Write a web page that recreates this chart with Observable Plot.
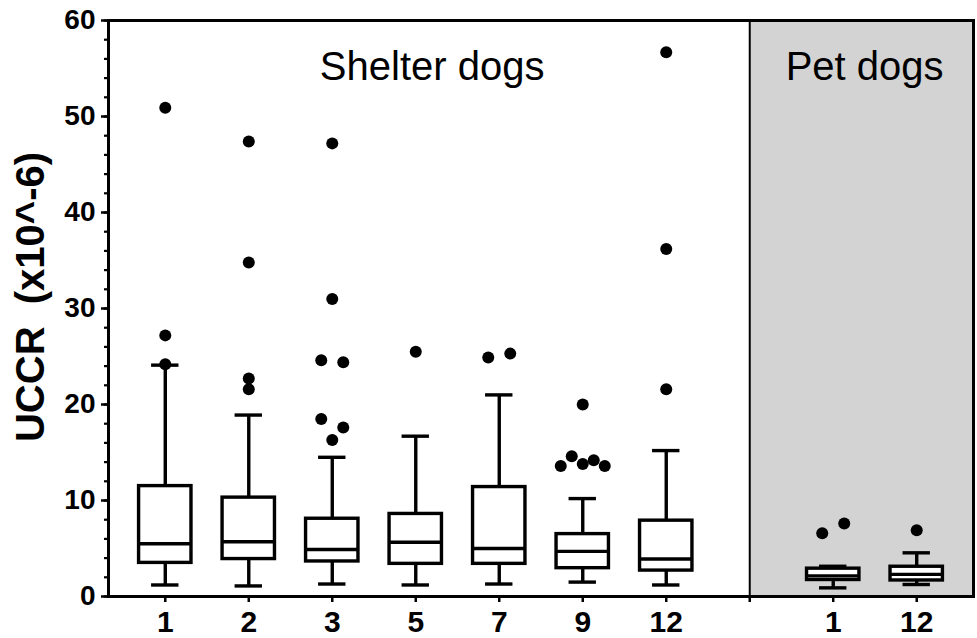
<!DOCTYPE html>
<html>
<head>
<meta charset="utf-8">
<script src="https://cdn.jsdelivr.net/npm/d3@7"></script>
<script src="https://cdn.jsdelivr.net/npm/@observablehq/plot@0.6"></script>
<style>
  body { margin: 0; background: #fff; }
</style>
</head>
<body>
<div id="chart"></div>
<script>
// ---------- data ----------
const shelterLabels = ["1", "2", "3", "5", "7", "9", "12"];
const petLabels = ["1", "12"];

const shelterLow    = [1.2, 1.1, 1.3, 1.2, 1.3, 1.5, 1.2];
const shelterQ1     = [3.5, 3.9, 3.65, 3.4, 3.4, 2.95, 2.7];
const shelterMedian = [5.5, 5.7, 4.9, 5.65, 5.0, 4.7, 3.9];
const shelterQ3     = [11.5, 10.3, 8.1, 8.6, 11.4, 6.5, 7.9];
const shelterHigh   = [24.1, 18.9, 14.5, 16.7, 21.0, 10.2, 15.2];
// outliers per group; each inner list is a row of points drawn side by side
const shelterOutliers = [
  [[50.9], [27.2], [24.2]],
  [[47.4], [34.8], [22.7], [21.6]],
  [[47.2], [31.0], [24.6, 24.4], [18.5, 17.6], [16.3]],
  [[25.5]],
  [[24.9, 25.3]],
  [[20.0], [13.6, 13.8, 13.6], [14.6, 14.2]],
  [[56.7], [36.2], [21.6]]
];

const petLow    = [0.9, 1.25];
const petQ1     = [1.72, 1.67];
const petMedian = [2.15, 2.3];
const petQ3     = [2.9, 3.1];
const petHigh   = [3.15, 4.55];
const petOutliers = [
  [[6.6, 7.6]],
  [[6.9]]
];

const yMajorTicks = [0, 10, 20, 30, 40, 50, 60];
const yMinorTicks = d3.range(0, 61, 2);
const panelTitles = ["Shelter dogs", "Pet dogs"];
const yTitle = "UCCR\u00a0\u00a0(x10^-6)";

// ---------- layout ----------
const W = 977, H = 638;
const mL = 108, mR = 4, mT = 20, mB = 42;
const pad = 0.68;
const gapIndex = shelterLabels.length;         // divider position
const petStart = gapIndex + 1;
const nTotal = petStart + petLabels.length;
const xDomain = [-pad, nTotal - 1 + pad];
const yDomain = [0, 60];
const pxPerUnit = (W - mL - mR) / (xDomain[1] - xDomain[0]);
const boxHalf = 26.2 / pxPerUnit;
const capHalf = 13.7 / pxPerUnit;
const dotSpacing = 22 / pxPerUnit;
const lw = 3.4;

const boxes = [];
shelterLabels.forEach((lab, i) => boxes.push({
  pos: i, low: shelterLow[i], q1: shelterQ1[i], median: shelterMedian[i], q3: shelterQ3[i], high: shelterHigh[i], rows: shelterOutliers[i]
}));
petLabels.forEach((lab, j) => boxes.push({
  pos: petStart + j, low: petLow[j], q1: petQ1[j], median: petMedian[j], q3: petQ3[j], high: petHigh[j], rows: petOutliers[j]
}));

const outliers = [];
boxes.forEach(b => b.rows.forEach(row => row.forEach((v, k) => {
  outliers.push({x: b.pos + (k - (row.length - 1) / 2) * dotSpacing, y: v});
})));

const tickPositions = d3.range(nTotal);
const tickLabels = [...shelterLabels, "", ...petLabels];
const panels = [
  {title: panelTitles[0], mid: (xDomain[0] + gapIndex) / 2},
  {title: panelTitles[1], mid: (gapIndex + xDomain[1]) / 2}
];

const chart = Plot.plot({
  width: W, height: H,
  marginLeft: mL, marginRight: mR, marginTop: mT, marginBottom: mB,
  style: {fontFamily: "'Liberation Sans', Arial, sans-serif", color: "black", background: "white", overflow: "visible"},
  x: {type: "linear", domain: xDomain},
  y: {domain: yDomain},
  marks: [
    Plot.rect([0], {x1: gapIndex, x2: xDomain[1], y1: yDomain[0], y2: yDomain[1], fill: "#d3d3d3"}),
    Plot.ruleX([gapIndex], {stroke: "black", strokeWidth: 2}),
    Plot.ruleX(boxes, {x: "pos", y1: "low", y2: "high", stroke: "black", strokeWidth: lw}),
    Plot.ruleY(boxes, {y: "low", x1: d => d.pos - capHalf, x2: d => d.pos + capHalf, stroke: "black", strokeWidth: lw}),
    Plot.ruleY(boxes, {y: "high", x1: d => d.pos - capHalf, x2: d => d.pos + capHalf, stroke: "black", strokeWidth: lw}),
    Plot.rect(boxes, {x1: d => d.pos - boxHalf, x2: d => d.pos + boxHalf, y1: "q1", y2: "q3", fill: "white", stroke: "black", strokeWidth: lw}),
    Plot.ruleY(boxes, {y: "median", x1: d => d.pos - boxHalf, x2: d => d.pos + boxHalf, stroke: "black", strokeWidth: lw}),
    Plot.dot(outliers, {x: "x", y: "y", r: 6, fill: "black", stroke: null}),
    Plot.frame({stroke: "black", strokeWidth: 3}),
    Plot.axisY({ticks: yMinorTicks, tickSize: 4, tickFormat: () => "", strokeWidth: 2.2, label: null}),
    Plot.axisY({ticks: yMajorTicks, tickSize: 7, tickPadding: 6, fontSize: 28, fontWeight: "bold", strokeWidth: 2.5, label: null}),
    Plot.axisX({ticks: tickPositions, tickFormat: i => tickLabels[i], tickSize: 6, tickPadding: 8, fontSize: 30, fontWeight: "bold", strokeWidth: 2.5, label: null}),
    Plot.text([yTitle], {text: d => d, frameAnchor: "left", rotate: -90, dx: -65, dy: -11.5, lineAnchor: "bottom", textAnchor: "middle", fontSize: 40, fontWeight: "bold"}),
    Plot.text(panels, {x: "mid", text: "title", frameAnchor: "top", dy: 59, dx: 3, lineAnchor: "bottom", fontSize: 40})
  ]
});
document.getElementById("chart").appendChild(chart);
</script>
</body>
</html>
